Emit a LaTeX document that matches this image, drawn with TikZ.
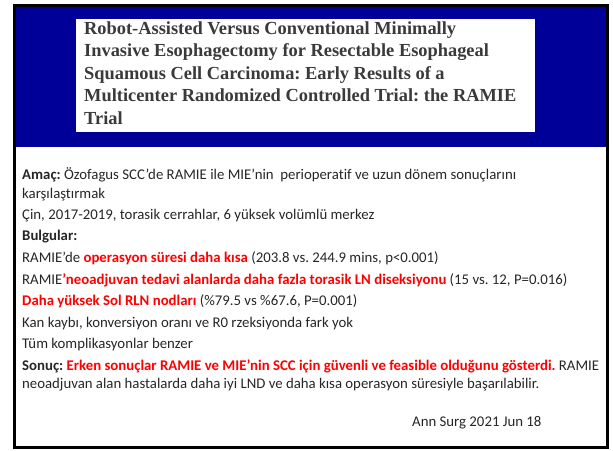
\documentclass[tikz,border=0pt]{standalone}
\usepackage{fontspec}
\setmainfont[Ligatures={NoCommon,TeX}]{Carlito}
\newfontfamily\titlefont{Liberation Serif}
\frenchspacing
\definecolor{hdrblue}{HTML}{000099}
\definecolor{txtgray}{HTML}{262626}
\definecolor{ttlgray}{HTML}{3A3A3A}
\definecolor{hired}{HTML}{FF0000}
\newcommand{\hl}[1]{\textbf{\textcolor{hired}{#1}}}
\begin{document}
\begin{tikzpicture}[x=1pt,y=-1pt,
  bodyline/.style={anchor=base west,inner sep=0pt,font=\frenchspacing\fontsize{14.8}{16}\selectfont,text=txtgray},
  titleline/.style={anchor=base west,inner sep=0pt,font=\frenchspacing\titlefont\bfseries\fontsize{18.4}{20}\selectfont,text=ttlgray}]
\useasboundingbox (0,0) rectangle (613,450);
\fill[hdrblue] (14,5) rectangle (607,147);
\fill[white] (76,19) rectangle (535,132);
\draw[line width=3pt,black] (14,5) rectangle (607,447);
\node[titleline] (t1) at (84,34) {Robot-Assisted Versus Conventional Minimally};
\node[titleline] (t2) at (84,56.5) {Invasive Esophagectomy for Resectable Esophageal};
\node[titleline] (t3) at (84,79) {Squamous Cell Carcinoma: Early Results of a};
\node[titleline] (t4) at (84,101.5) {Multicenter Randomized Controlled Trial: the RAMIE};
\node[titleline] (t5) at (84,124) {Trial};
\node[bodyline] (b1) at (22,179) {\textbf{Amaç:} Özofagus SCC’de RAMIE ile MIE’nin\ \ perioperatif ve uzun dönem sonuçlarını};
\node[bodyline] (b2) at (22,198) {karşılaştırmak};
\node[bodyline] (b3) at (22,219) {Çin, 2017-2019, torasik cerrahlar, 6 yüksek volümlü merkez};
\node[bodyline] (b4) at (22,240.5) {\textbf{Bulgular:}};
\node[bodyline] (b5) at (22,262) {RAMIE’de \hl{operasyon süresi daha kısa} (203.8 vs. 244.9 mins, p<0.001)};
\node[bodyline] (b6) at (22,284) {RAMIE\hl{’neoadjuvan tedavi alanlarda daha fazla torasik LN diseksiyonu} (15 vs. 12, P=0.016)};
\node[bodyline] (b7) at (22,305.5) {\hl{Daha yüksek Sol RLN nodları} (\%79.5 vs \%67.6, P=0.001)};
\node[bodyline] (b8) at (22,327) {Kan kaybı, konversiyon oranı ve R0 rzeksiyonda fark yok};
\node[bodyline] (b9) at (22,348.5) {Tüm komplikasyonlar benzer};
\node[bodyline] (b10) at (22,370) {\textbf{Sonuç:} \hl{Erken sonuçlar RAMIE ve MIE’nin SCC için güvenli ve feasible olduğunu gösterdi.} RAMIE};
\node[bodyline] (b11) at (22,388) {neoadjuvan alan hastalarda daha iyi LND ve daha kısa operasyon süresiyle başarılabilir.};
\node[bodyline] (b12) at (412,426) {Ann Surg 2021 Jun 18};
\end{tikzpicture}
\end{document}
